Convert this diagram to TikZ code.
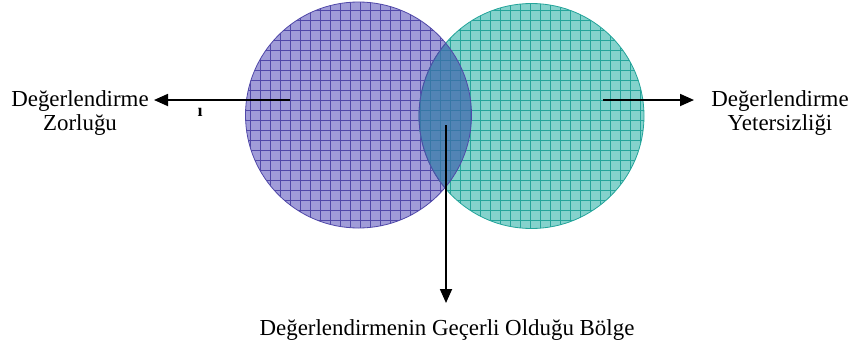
\documentclass[tikz,border=0pt]{standalone}
\usepackage{fontspec}
\setmainfont{Liberation Serif}
\usetikzlibrary{arrows.meta}
\definecolor{lfill}{RGB}{160,156,216}
\definecolor{lgrid}{RGB}{80,72,168}
\definecolor{rfill}{RGB}{132,210,204}
\definecolor{rgrid}{RGB}{36,164,154}
\definecolor{lens}{RGB}{62,100,172}
\tikzset{
  lbl/.style={font=\fontsize{23}{25}\selectfont, align=center, inner sep=0pt},
  arr/.style={line width=1.8bp, -{Triangle[length=14bp,width=12bp]}},
  gl/.style={line width=0.7bp},
}
\begin{document}
\begin{tikzpicture}[x=1bp,y=-1bp]
\useasboundingbox (0,0) rectangle (855,345);
% left circle
\fill[lfill] (358.5,115) circle (113);
\begin{scope}
  \clip (358.5,115) circle (113);
  \foreach \i in {240,250,...,480} \draw[lgrid, gl] (\i,0) -- (\i,230);
  \foreach \j in {0,10,...,230} \draw[lgrid, gl] (240,\j) -- (480,\j);
\end{scope}
\draw[lgrid, line width=0.8bp] (358.5,115) circle (113);
% right circle
\fill[rfill] (531.5,116) circle (112.5);
\begin{scope}
  \clip (531.5,116) circle (112.5);
  \foreach \i in {410,420,...,650} \draw[rgrid, gl] (\i,0) -- (\i,230);
  \foreach \j in {0,10,...,230} \draw[rgrid, gl] (410,\j) -- (650,\j);
\end{scope}
\draw[rgrid, line width=0.8bp] (531.5,116) circle (112.5);
% lens
\begin{scope}
  \clip (358.5,115) circle (113);
  \fill[lens, opacity=0.7] (531.5,116) circle (112.5);
  \draw[lgrid, line width=0.8bp] (531.5,116) circle (112.5);
\end{scope}
\begin{scope}
  \clip (531.5,116) circle (112.5);
  \draw[lgrid, line width=0.8bp] (358.5,115) circle (113);
\end{scope}
% labels
\node[lbl] (lt) at (80,113) {Değerlendirme\\Zorluğu};
\node[lbl] (rt) at (780,113) {Değerlendirme\\Yetersizliği};
\node[lbl, anchor=base] (bt) at (447,335) {Değerlendirmenin Geçerli Olduğu Bölge};
\node[font=\fontsize{18}{18}\selectfont\bfseries, inner sep=0pt, anchor=base] (one) at (200,116) {ı};
% arrows
\coordinate (ls) at (290,100);
\coordinate (le) at (154,100);
\coordinate (rs) at (603,100);
\coordinate (re) at (694,100);
\coordinate (ds) at (446,125);
\coordinate (de) at (446,303);
\draw[arr] (ls) -- (le);
\draw[arr] (rs) -- (re);
\draw[arr] (ds) -- (de);
\end{tikzpicture}
\end{document}
